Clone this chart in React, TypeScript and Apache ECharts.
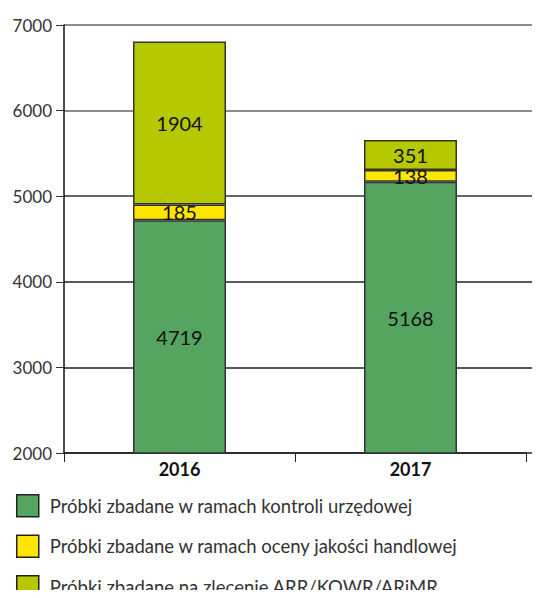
import React, { useEffect, useRef } from "react";
import * as echarts from "echarts";

const categories = ["2016", "2017"];
const seriesNames = [
  "Próbki zbadane w ramach kontroli urzędowej",
  "Próbki zbadane w ramach oceny jakości handlowej",
  "Próbki zbadane na zlecenie ARR/KOWR/ARiMR",
];
const officialControl = [4719, 5168];
const commercialQuality = [185, 138];
const commissioned = [1904, 351];
const yTicks = { min: 2000, max: 7000, interval: 1000 };
const colors = ["#55a460", "#ffe600", "#b5c800"];

export default function App() {
  const ref = useRef<HTMLDivElement>(null);
  useEffect(() => {
    if (!ref.current) return;
    const chart = echarts.init(ref.current, undefined, { renderer: "svg" });
    const font = "Lato, 'Open Sans', sans-serif";
    const values = [officialControl, commercialQuality, commissioned];
    chart.setOption({
      animation: false,
      textStyle: { fontFamily: font },
      grid: [
        { left: 64, right: 14, top: 25, bottom: 145 },
        { left: 64, right: 0, top: 25, bottom: 145 },
      ],
      xAxis: [
        {
          type: "category",
          gridIndex: 0,
          data: categories,
          axisLine: { lineStyle: { color: "#222", width: 1.5 } },
          axisTick: { show: true, length: 9, lineStyle: { color: "#222" } },
          axisLabel: {
            color: "#111",
            fontSize: 18,
            fontWeight: "bold",
            fontFamily: font,
            margin: 7,
          },
        },
        {
          type: "category",
          gridIndex: 1,
          data: categories,
          show: false,
        },
      ],
      yAxis: [
        {
          type: "value",
          gridIndex: 0,
          min: yTicks.min,
          max: yTicks.max,
          interval: yTicks.interval,
          axisLine: { show: true, lineStyle: { color: "#111", width: 1.5 } },
          axisTick: { show: true, length: 8, lineStyle: { color: "#333" } },
          splitLine: { show: false },
          axisLabel: {
            color: "#333",
            fontSize: 17,
            fontFamily: font,
            margin: 12,
            formatter: (v: number) => String(v),
          },
        },
        {
          type: "value",
          gridIndex: 1,
          min: yTicks.min,
          max: yTicks.max,
          interval: yTicks.interval,
          axisLine: { show: false },
          axisTick: { show: false },
          axisLabel: { show: false },
          splitLine: {
            show: true,
            lineStyle: {
              color: ["#222", "#222", "#222", "#333", "#666", "#666"],
              width: 1.5,
            },
          },
        },
      ],
      legend: {
        orient: "vertical",
        left: 16,
        top: 494,
        padding: 0,
        height: 110,
        itemWidth: 22,
        itemHeight: 22,
        itemGap: 17,
        icon: "rect",
        data: seriesNames,
        itemStyle: { borderColor: "#222", borderWidth: 1.5 },
        textStyle: {
          color: "#333",
          fontSize: 18.5,
          lineHeight: 20,
          fontFamily: font,
          padding: [0, 0, 0, 6],
        },
      },
      series: seriesNames.map((name, i) => ({
        name,
        type: "bar",
        stack: "total",
        xAxisIndex: 0,
        yAxisIndex: 0,
        barWidth: 93,
        data: values[i],
        itemStyle: {
          color: colors[i],
          borderColor: "#333",
          borderWidth: 1.5,
        },
        label: {
          show: true,
          position: "inside",
          color: "#111",
          fontSize: 20,
          fontFamily: font,
        },
      })),
    });
    return () => chart.dispose();
  }, []);
  return <div ref={ref} style={{ width: 540, height: 598, margin: -8 }} />;
}
